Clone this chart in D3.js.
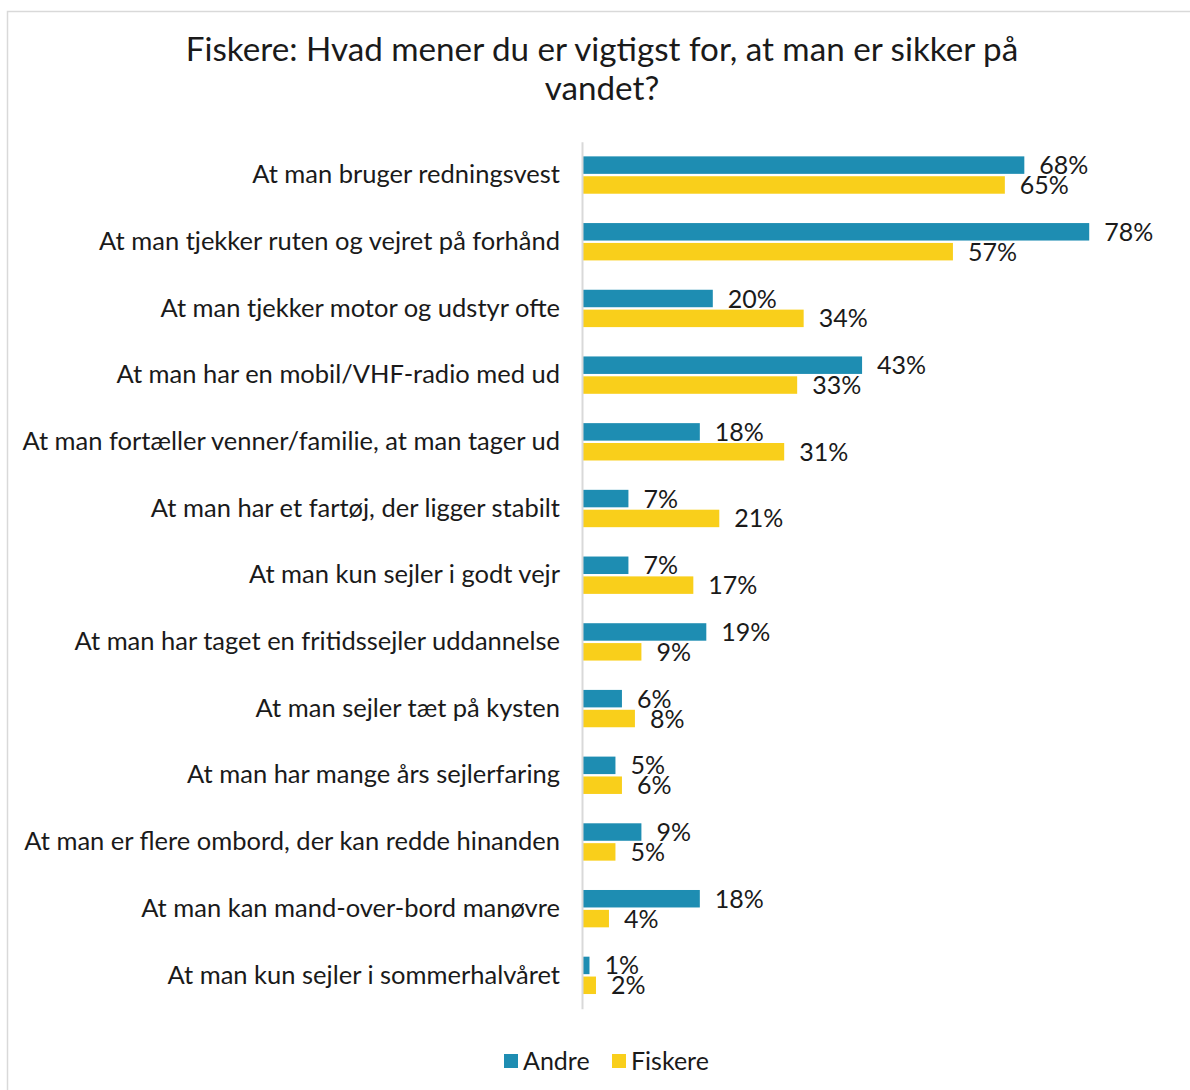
<!DOCTYPE html>
<html>
<head>
<meta charset="utf-8">
<script src="https://cdn.jsdelivr.net/npm/d3@7"></script>
<style>
  body { margin: 0; background: #fff; }
  text { font-family: Lato, "Open Sans", sans-serif; fill: #1a1a1a; }
</style>
</head>
<body>
<div id="viz"></div>
<script>
// data
var categories = [
  "At man bruger redningsvest",
  "At man tjekker ruten og vejret på forhånd",
  "At man tjekker motor og udstyr ofte",
  "At man har en mobil/VHF-radio med ud",
  "At man fortæller venner/familie, at man tager ud",
  "At man har et fartøj, der ligger stabilt",
  "At man kun sejler i godt vejr",
  "At man har taget en fritidssejler uddannelse",
  "At man sejler tæt på kysten",
  "At man har mange års sejlerfaring",
  "At man er flere ombord, der kan redde hinanden",
  "At man kan mand-over-bord manøvre",
  "At man kun sejler i sommerhalvåret"
];
var series = ["Andre", "Fiskere"];
var andre   = [68, 78, 20, 43, 18, 7, 7, 19, 6, 5, 9, 18, 1];
var fiskere = [65, 57, 34, 33, 31, 21, 17, 9, 8, 6, 5, 4, 2];
var colors = { "Andre": "#1e8db2", "Fiskere": "#f9cf1b" };

var width = 1190, height = 1090;
var plotLeft = 583, plotTop = 141.7, plotBottom = 1008.7;

var svg = d3.select('#viz').append('svg')
  .attr('width', width)
  .attr('height', height);

// chart frame
svg.append('rect')
  .attr('x', 7.5).attr('y', 11.5)
  .attr('width', 1190).attr('height', 1100)
  .attr('fill', 'none')
  .attr('stroke', '#d9d9d9')
  .attr('stroke-width', 1.5);

// title
svg.append('text')
  .attr('x', 602).attr('y', 61)
  .attr('text-anchor', 'middle')
  .style('font-size', '33.2px')
  .text('Fiskere: Hvad mener du er vigtigst for, at man er sikker på');
svg.append('text')
  .attr('x', 602).attr('y', 100)
  .attr('text-anchor', 'middle')
  .style('font-size', '33.2px')
  .text('vandet?');

var yScale = d3.scaleBand()
  .domain(categories)
  .range([plotTop, plotBottom])
  .paddingInner(0.44)
  .paddingOuter(0.22);

var ySub = d3.scaleBand()
  .domain(series)
  .range([0, yScale.bandwidth()])
  .paddingInner(0.12);

var xScale = d3.scaleLinear()
  .domain([0, 100])
  .range([plotLeft, plotLeft + 649]);

var rows = categories.map(function(c, i) {
  return { cat: c, values: [
    { s: "Andre", v: andre[i] },
    { s: "Fiskere", v: fiskere[i] }
  ]};
});

var groups = svg.append('g').selectAll('g')
  .data(rows)
  .enter().append('g')
    .attr('transform', function(d) { return 'translate(0,' + yScale(d.cat) + ')'; });

groups.selectAll('rect')
  .data(function(d) { return d.values; })
  .enter().append('rect')
    .attr('x', xScale(0))
    .attr('y', function(d) { return ySub(d.s); })
    .attr('width', function(d) { return xScale(d.v) - xScale(0); })
    .attr('height', ySub.bandwidth())
    .attr('fill', function(d) { return colors[d.s]; });

groups.selectAll('text.val')
  .data(function(d) { return d.values; })
  .enter().append('text')
    .attr('class', 'val')
    .attr('x', function(d) { return xScale(d.v) + 15; })
    .attr('y', function(d) { return ySub(d.s) + ySub.bandwidth() / 2; })
    .attr('dy', '0.36em')
    .style('font-size', '25px')
    .text(function(d) { return d.v + '%'; });

// category axis (line sits just left of the bars)
var yAxis = d3.axisLeft(yScale)
  .tickSize(0)
  .tickPadding(22);

var yGuide = svg.append('g')
  .attr('transform', 'translate(' + (plotLeft - 1) + ',0)')
  .call(yAxis);
yGuide.select('.domain')
  .attr('stroke', '#d9d9d9')
  .attr('stroke-width', 2);
yGuide.selectAll('text')
  .attr('fill', '#1a1a1a')
  .style('font-family', 'Lato, "Open Sans", sans-serif')
  .style('font-size', '25.5px');

// legend
var legend = svg.append('g')
  .attr('transform', 'translate(504,1054)');
var items = legend.selectAll('g')
  .data(series)
  .enter().append('g')
    .attr('transform', function(d, i) { return 'translate(' + (i * 108) + ',0)'; });
items.append('rect')
  .attr('width', 14).attr('height', 14)
  .attr('fill', function(d) { return colors[d]; });
items.append('text')
  .attr('x', 19).attr('y', 7)
  .attr('dy', '0.36em')
  .style('font-size', '25px')
  .text(function(d) { return d; });
</script>
</body>
</html>
